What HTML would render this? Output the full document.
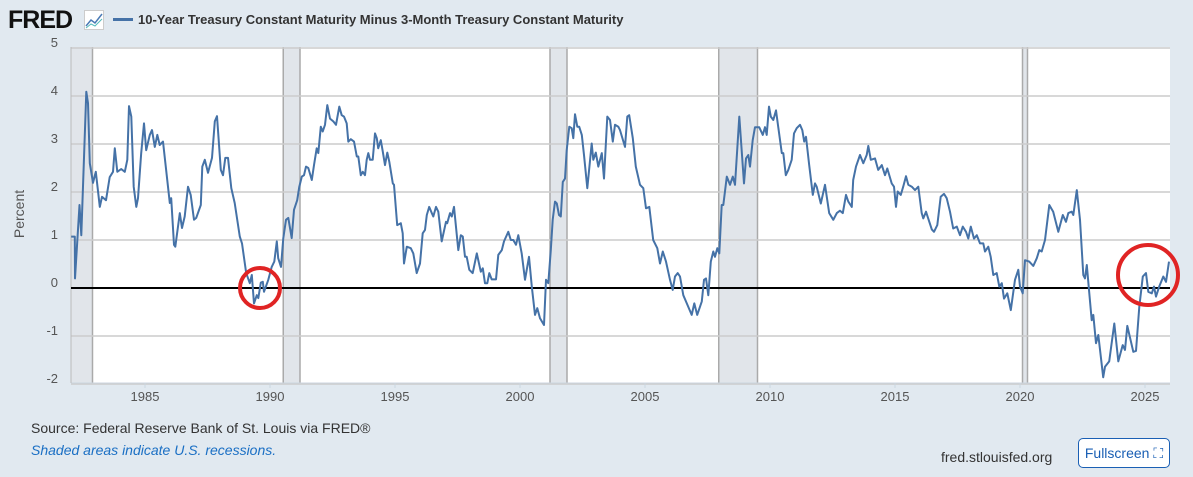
<!DOCTYPE html>
<html><head><meta charset="utf-8"><style>
body{margin:0;width:1193px;height:477px;background:#e1e9f0;font-family:"Liberation Sans",sans-serif;overflow:hidden;position:relative}
.t{position:absolute;white-space:nowrap}
</style></head><body>
<div class="t" style="left:8px;top:6px;font-size:25px;font-weight:bold;letter-spacing:-1px;color:#111">FRED</div>
<svg class="t" style="left:84px;top:10px" width="20" height="20"><rect x="0.5" y="0.5" width="19" height="19" fill="#fff" stroke="#ccc"/><polyline points="2,16 7,10 11,13 18,4" fill="none" stroke="#4a7ab5" stroke-width="1.5"/><polyline points="2,18 7,14 11,16 18,9" fill="none" stroke="#5bb" stroke-width="1"/></svg>
<div class="t" style="left:113px;top:18px;width:20px;height:3px;background:#4572a7"></div>
<div class="t" style="left:138px;top:12px;font-size:13px;font-weight:bold;color:#333">10-Year Treasury Constant Maturity Minus 3-Month Treasury Constant Maturity</div>
<div class="t" style="left:-5px;top:206px;font-size:14px;color:#555;transform:rotate(-90deg)">Percent</div>
<svg id="chart" class="t" style="left:0;top:0" width="1193" height="410"></svg>
<div class="t" style="left:31px;top:420px;font-size:14px;color:#333">Source: Federal Reserve Bank of St. Louis via FRED®</div>
<div class="t" style="left:31px;top:442px;font-size:14px;color:#1a6fc4;font-style:italic">Shaded areas indicate U.S. recessions.</div>
<div class="t" style="left:941px;top:449px;font-size:14px;color:#333">fred.stlouisfed.org</div>
<div class="t" style="left:1078px;top:438px;width:92px;height:30px;box-sizing:border-box;border:1px solid #1a5fb4;border-radius:5px;background:#fff;color:#1a5fb4;font-size:14px;line-height:28px;text-align:center">Fullscreen ⛶</div>
<script>
const yTicks=[5,4,3,2,1,0,-1,-2];
const xTicks=[1985,1990,1995,2000,2005,2010,2015,2020,2025];
const recStart=[1981.5,1990.53,2001.2,2007.95,2020.1];
const recEnd=[1982.9,1991.2,2001.88,2009.5,2020.3];
const dates=[1982.05,1982.19,1982.2,1982.38,1982.45,1982.65,1982.72,1982.79,1982.92,1983.03,1983.19,1983.28,1983.44,1983.59,1983.72,1983.79,1983.89,1984.05,1984.19,1984.29,1984.36,1984.45,1984.55,1984.65,1984.72,1984.85,1984.96,1985.05,1985.19,1985.28,1985.39,1985.49,1985.59,1985.72,1985.99,1986.05,1986.16,1986.21,1986.39,1986.48,1986.59,1986.72,1986.83,1986.96,1987.05,1987.23,1987.29,1987.39,1987.52,1987.68,1987.79,1987.88,1988.03,1988.12,1988.21,1988.32,1988.45,1988.59,1988.79,1988.88,1989.05,1989.19,1989.27,1989.36,1989.47,1989.53,1989.63,1989.71,1989.76,1989.93,1990.07,1990.17,1990.27,1990.33,1990.44,1990.53,1990.64,1990.73,1990.87,1990.96,1991.09,1991.17,1991.27,1991.36,1991.44,1991.53,1991.67,1991.76,1991.87,1991.93,1992.03,1992.11,1992.2,1992.29,1992.4,1992.53,1992.64,1992.77,1992.87,1992.96,1993.07,1993.13,1993.23,1993.36,1993.47,1993.53,1993.63,1993.71,1993.8,1993.87,1993.93,1994.0,1994.11,1994.2,1994.27,1994.33,1994.43,1994.51,1994.6,1994.69,1994.77,1994.91,1994.96,1995.09,1995.23,1995.31,1995.36,1995.47,1995.63,1995.73,1995.87,1996.0,1996.11,1996.2,1996.27,1996.37,1996.47,1996.53,1996.64,1996.73,1996.87,1997.04,1997.09,1997.2,1997.27,1997.36,1997.53,1997.63,1997.71,1997.8,1997.87,1997.97,1998.11,1998.27,1998.43,1998.51,1998.6,1998.69,1998.77,1998.87,1999.04,1999.13,1999.27,1999.36,1999.53,1999.63,1999.73,1999.84,1999.93,2000.07,2000.2,2000.36,2000.47,2000.6,2000.69,2000.8,2000.96,2001.04,2001.13,2001.23,2001.31,2001.4,2001.47,2001.56,2001.63,2001.71,2001.8,2001.87,2001.97,2002.07,2002.13,2002.2,2002.29,2002.37,2002.47,2002.56,2002.69,2002.87,2002.93,2003.03,2003.13,2003.27,2003.36,2003.49,2003.6,2003.71,2003.8,2003.93,2004.0,2004.2,2004.29,2004.37,2004.51,2004.63,2004.8,2004.93,2005.04,2005.17,2005.33,2005.49,2005.6,2005.71,2005.84,2006.0,2006.11,2006.2,2006.31,2006.4,2006.53,2006.67,2006.87,2006.97,2007.09,2007.27,2007.36,2007.44,2007.53,2007.63,2007.73,2007.8,2007.89,2007.97,2008.07,2008.13,2008.27,2008.4,2008.51,2008.6,2008.77,2008.96,2009.04,2009.13,2009.2,2009.31,2009.4,2009.57,2009.71,2009.8,2009.87,2009.96,2010.03,2010.13,2010.24,2010.33,2010.47,2010.53,2010.63,2010.73,2010.87,2010.96,2011.07,2011.2,2011.29,2011.37,2011.44,2011.57,2011.71,2011.8,2011.87,2012.03,2012.2,2012.37,2012.53,2012.67,2012.8,2012.91,2013.04,2013.13,2013.27,2013.33,2013.44,2013.6,2013.73,2013.87,2013.93,2014.03,2014.2,2014.33,2014.47,2014.6,2014.69,2014.87,2014.96,2015.04,2015.11,2015.23,2015.33,2015.44,2015.53,2015.67,2015.8,2015.93,2016.07,2016.13,2016.24,2016.33,2016.47,2016.56,2016.69,2016.83,2016.96,2017.07,2017.2,2017.33,2017.47,2017.6,2017.71,2017.84,2017.93,2018.03,2018.16,2018.27,2018.4,2018.53,2018.6,2018.73,2018.83,2018.93,2019.07,2019.17,2019.27,2019.36,2019.49,2019.63,2019.8,2019.93,2020.0,2020.11,2020.2,2020.37,2020.53,2020.67,2020.77,2020.87,2021.0,2021.17,2021.33,2021.53,2021.71,2021.84,2021.93,2022.07,2022.13,2022.27,2022.4,2022.53,2022.6,2022.67,2022.77,2022.87,2022.93,2023.04,2023.13,2023.33,2023.4,2023.57,2023.77,2023.93,2024.11,2024.2,2024.29,2024.53,2024.64,2024.77,2024.91,2025.04,2025.13,2025.27,2025.36,2025.44,2025.57,2025.73,2025.84,2025.96];
const values=[1.07,1.07,0.2,1.73,1.1,4.09,3.85,2.6,2.19,2.42,1.69,1.9,1.83,2.31,2.42,2.91,2.42,2.48,2.42,2.67,3.79,3.57,2.11,1.69,1.87,2.81,3.43,2.87,3.19,3.29,2.94,3.19,2.98,3.05,1.77,1.87,0.9,0.86,1.56,1.25,1.49,2.11,1.94,1.42,1.46,1.73,2.53,2.67,2.4,2.71,3.47,3.58,2.46,2.35,2.71,2.71,2.08,1.77,1.07,0.93,0.31,0.1,0.27,-0.32,-0.15,-0.21,0.11,0.13,-0.08,0.17,0.44,0.55,0.97,0.62,0.44,1.04,1.42,1.46,1.04,1.63,1.83,2.11,2.32,2.35,2.53,2.5,2.25,2.56,2.91,2.81,3.36,3.26,3.4,3.81,3.53,3.47,3.4,3.78,3.6,3.57,3.43,3.05,3.1,3.05,2.74,2.74,2.35,2.42,2.35,2.67,2.81,2.67,2.67,3.22,3.12,2.91,3.08,2.84,2.56,2.82,2.63,2.18,2.15,1.31,1.35,1.14,0.51,0.86,0.83,0.72,0.31,0.51,1.14,1.21,1.52,1.69,1.56,1.49,1.69,1.59,0.97,1.38,1.35,1.56,1.49,1.69,0.79,1.1,1.07,0.65,0.65,0.38,0.31,0.72,0.34,0.41,0.1,0.1,0.31,0.18,0.18,0.69,0.79,0.97,1.17,1.0,1.0,0.9,1.1,0.72,0.17,0.65,0.03,-0.56,-0.42,-0.63,-0.77,0.17,0.1,0.79,1.42,1.8,1.76,1.52,1.49,2.21,2.28,2.87,3.36,3.33,3.12,3.62,3.36,3.36,3.19,2.77,2.08,3.01,2.67,2.82,2.53,2.81,2.28,3.57,3.5,3.05,3.4,3.36,3.29,2.94,3.57,3.6,3.12,2.53,2.15,2.08,1.66,1.69,1.0,0.83,0.51,0.76,0.55,0.17,-0.04,0.24,0.31,0.24,-0.15,-0.32,-0.56,-0.32,-0.56,-0.28,0.17,0.2,-0.15,0.55,0.76,0.65,0.83,0.72,1.73,1.73,2.32,2.15,2.32,2.15,3.57,2.18,2.7,2.77,2.53,3.08,3.35,3.35,3.19,3.35,3.19,3.78,3.57,3.5,3.7,3.36,2.81,2.81,2.35,2.46,2.67,3.22,3.33,3.4,3.29,3.05,3.15,2.56,1.94,2.18,2.11,1.76,2.15,1.56,1.42,1.56,1.61,1.56,1.94,1.8,1.69,2.25,2.53,2.77,2.6,2.77,2.96,2.67,2.7,2.46,2.56,2.35,2.49,2.18,2.11,1.69,2.01,1.94,2.11,2.33,2.15,2.11,2.04,2.11,1.56,1.45,1.59,1.45,1.22,1.17,1.31,1.9,1.96,1.87,1.59,1.24,1.28,1.1,1.28,1.17,1.03,1.28,1.03,1.1,0.93,0.93,0.76,0.86,0.65,0.27,0.31,0.03,0.1,-0.22,-0.11,-0.46,0.17,0.38,0.03,-0.11,0.58,0.55,0.46,0.62,0.79,0.76,1.0,1.73,1.59,1.17,1.52,1.38,1.56,1.59,1.52,2.04,1.42,0.27,0.2,0.48,-0.11,-0.67,-0.56,-1.15,-0.98,-1.86,-1.64,-1.53,-0.74,-1.53,-1.19,-1.29,-0.79,-1.33,-1.31,-0.39,0.24,0.31,-0.08,-0.11,0.03,-0.18,0.03,0.24,0.13,0.55];

const NS='http://www.w3.org/2000/svg';
const svg=document.getElementById('chart');
const L=71,R=1170,T=47,B=383;
function xs(t){return L+(t-1982.04)*25;}
function ys(v){return 288-48*v;}
function mk(tag,attrs,parent){const e=document.createElementNS(NS,tag);for(const k in attrs)e.setAttribute(k,attrs[k]);(parent||svg).appendChild(e);return e;}

const bg=mk('rect',{x:L,y:T,width:R-L,height:B-T,fill:'#fff'});



for(let i=0;i<recStart.length;i++){
  const x1=Math.max(L,xs(recStart[i])),x2=xs(recEnd[i]);
  const r=mk('rect',{x:x1,y:T,width:x2-x1,height:B-T,fill:'#e1e5ea'});
  
  
  [x1,x2].forEach(xx=>{if(xx>L){const l=mk('line',{x1:xx,x2:xx,y1:T,y2:B,stroke:'#aaa','stroke-width':1.5});
  
  }});
}
yTicks.forEach(v=>{
  const y=ys(v);
  const g=mk('line',{x1:L,x2:R,y1:y,y2:y,stroke:'#ccc','stroke-width':1.5});
  
  
  const t=mk('text',{x:58,y:y-1,'text-anchor':'end','font-size':13,fill:'#555','font-family':'Liberation Sans, sans-serif'});
  t.textContent=v;
  
  
});
const ax=mk('line',{x1:L,x2:R,y1:B,y2:B,stroke:'#ccd6e0','stroke-width':1});


const lft=mk('line',{x1:L,x2:L,y1:T,y2:B,stroke:'#bbb','stroke-width':1});


xTicks.forEach(yr=>{
  const x=xs(yr);
  const tk=mk('line',{x1:x,x2:x,y1:B,y2:B+5,stroke:'#ccd6e0'});
  
  
  const t=mk('text',{x:x,y:401,'text-anchor':'middle','font-size':13,fill:'#555','font-family':'Liberation Sans, sans-serif'});
  t.textContent=yr;
  
  
});
const zl=mk('line',{x1:L,x2:R,y1:ys(0),y2:ys(0),stroke:'#000','stroke-width':2});


const pts=dates.map((d,i)=>xs(d).toFixed(1)+','+ys(values[i]).toFixed(1)).join(' ');
const line=mk('polyline',{points:pts,fill:'none',stroke:'#4572a7','stroke-width':2,'stroke-linejoin':'round'});


const c1=mk('circle',{cx:260,cy:288,r:20,fill:'none',stroke:'#e02424','stroke-width':4});


const c2=mk('circle',{cx:1148,cy:275,r:30,fill:'none',stroke:'#e02424','stroke-width':4});


</script>
</body></html>
